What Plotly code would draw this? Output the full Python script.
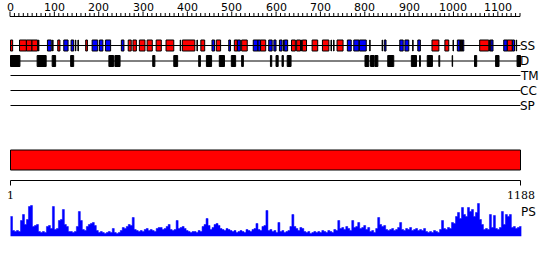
import plotly.graph_objects as go
import numpy as np

# ---------------- data ----------------
seq_len = 1188
ruler_max = 1150
ruler_labels = list(range(0, 1101, 100))
ruler_minor = list(range(0, 1151, 10))

# secondary structure elements: H = helix (red), E = strand (blue), C = short coil mark (black)
ss_start = [1, 22, 38, 51, 66, 87, 99, 111, 125, 142, 152, 158, 176, 191, 208, 222, 259,
            275, 286, 301, 319, 340, 363, 396, 401, 435, 444, 470, 480, 509, 522, 529, 539,
            566, 577, 583, 602, 614, 627, 636, 638, 655, 667, 678, 680, 703, 727, 747, 753,
            761, 785, 800, 813, 837, 866, 871, 907, 919, 937, 949, 982, 1012, 1031, 1041,
            1047, 1049, 1050, 1053, 1093, 1116, 1119, 1149, 1157, 1169, 1178]
ss_end = [6, 38, 51, 64, 67, 96, 100, 116, 135, 148, 153, 159, 180, 204, 216, 234, 265,
          282, 294, 314, 331, 352, 381, 397, 430, 436, 453, 476, 490, 513, 529, 536, 552,
          577, 583, 595, 610, 619, 633, 637, 646, 664, 676, 679, 690, 716, 742, 748, 754,
          775, 794, 812, 829, 838, 867, 875, 915, 928, 938, 955, 998, 1021, 1032, 1047,
          1049, 1050, 1053, 1056, 1114, 1119, 1124, 1157, 1169, 1174, 1179]
ss_type = ['H', 'H', 'H', 'H', 'C', 'E', 'C', 'H', 'E', 'E', 'C', 'C', 'H', 'E', 'E', 'E', 'E',
           'H', 'H', 'H', 'H', 'H', 'H', 'C', 'H', 'C', 'H', 'E', 'H', 'E', 'H', 'E', 'H',
           'E', 'E', 'H', 'E', 'E', 'E', 'C', 'E', 'H', 'H', 'C', 'H', 'H', 'H', 'C', 'C',
           'H', 'E', 'E', 'E', 'C', 'C', 'E', 'E', 'E', 'C', 'E', 'H', 'H', 'C', 'E',
           'H', 'C', 'H', 'E', 'H', 'H', 'E', 'E', 'H', 'E', 'C']

# disordered regions (D)
dis_start = [1, 63, 98, 141, 230, 244, 332, 381, 439, 457, 487, 515, 539, 606, 619, 633, 645,
             826, 839, 849, 879, 934, 953, 971, 998, 1029, 1081, 1130, 1180]
dis_end = [23, 84, 106, 148, 241, 256, 337, 390, 443, 469, 499, 525, 543, 609, 624, 636, 654,
           835, 847, 856, 893, 946, 955, 983, 1000, 1030, 1086, 1138, 1188]

# domain bar
domain_start = [1]
domain_end = [1188]

# PS profile (arbitrary score units), equal bins along the sequence
ps_score = [20, 6, 5, 6, 5, 16, 22, 12, 17, 30, 31, 10, 11, 12, 5, 4, 5, 4, 10, 11, 8, 30, 7, 8,
            16, 17, 27, 12, 10, 5, 5, 4, 5, 10, 25, 16, 7, 6, 10, 12, 13, 14, 11, 6, 4, 5, 4, 3,
            4, 5, 4, 8, 4, 3, 4, 6, 9, 8, 10, 12, 11, 19, 7, 6, 5, 6, 5, 7, 8, 6, 7, 6, 5, 8, 9,
            9, 7, 8, 10, 12, 7, 6, 7, 16, 8, 9, 10, 8, 6, 5, 4, 5, 5, 4, 6, 5, 10, 12, 18, 11, 7,
            9, 12, 13, 11, 8, 7, 6, 8, 7, 6, 5, 6, 4, 5, 6, 5, 4, 7, 6, 5, 7, 8, 13, 7, 6, 10, 11,
            26, 6, 7, 5, 6, 4, 14, 5, 6, 4, 5, 6, 10, 22, 10, 8, 6, 9, 8, 5, 4, 5, 3, 4, 5, 4, 5,
            4, 6, 5, 4, 6, 5, 4, 7, 6, 16, 8, 9, 7, 10, 8, 6, 16, 9, 10, 14, 8, 9, 11, 7, 9, 5, 6,
            4, 8, 19, 12, 10, 11, 7, 6, 7, 8, 6, 7, 9, 14, 7, 6, 8, 7, 9, 6, 7, 8, 6, 7, 6, 8, 5,
            4, 5, 4, 6, 5, 4, 7, 16, 8, 7, 9, 8, 14, 13, 20, 24, 18, 29, 22, 20, 29, 25, 27, 20,
            24, 33, 17, 12, 7, 8, 7, 22, 9, 21, 8, 7, 9, 25, 12, 22, 20, 22, 9, 10, 8, 9, 10]

track_names = ['SS', 'D', 'TM', 'CC', 'SP']

# ---------------- layout helpers ----------------
W, H = 550, 260
k = (seq_len - 1) / 510.0          # residues per pixel, main scale
x_range = [1 - 10.5 * k, 1 + (W - 10.5) * k]
k2 = ruler_max / 510.0             # residues per pixel, top ruler
x2_range = [-10 * k2, (W - 10) * k2]
track_y = {'SS': 45.5, 'D': 61.0, 'TM': 75.5, 'CC': 90.5, 'SP': 105.5}
colors = {'H': '#ff0000', 'E': '#0000ff', 'C': '#000000'}

fig = go.Figure()

# top ruler
rx, ry = [0, ruler_max], [16.5, 16.5]
fig.add_trace(go.Scatter(x=rx, y=ry, xaxis='x2', yaxis='y', mode='lines',
                         line=dict(color='black', width=1), hoverinfo='skip'))
tx, ty = [], []
for t in ruler_minor:
    top = 11.5 if t % 100 == 0 else 13
    tx += [t, t, None]
    ty += [top, 16.5, None]
fig.add_trace(go.Scatter(x=tx, y=ty, xaxis='x2', yaxis='y', mode='lines',
                         line=dict(color='black', width=1), hoverinfo='skip'))

# track base lines
for name in track_names:
    yv = track_y[name]
    fig.add_trace(go.Scatter(x=[1, seq_len], y=[yv, yv], mode='lines',
                             line=dict(color='black', width=1), hoverinfo='skip'))

# SS boxes
for t in ['H', 'E', 'C']:
    s = [a for a, b, c in zip(ss_start, ss_end, ss_type) if c == t]
    e = [b for a, b, c in zip(ss_start, ss_end, ss_type) if c == t]
    fig.add_trace(go.Bar(orientation='h', base=s, x=[b - a for a, b in zip(s, e)],
                         y=[track_y['SS']] * len(s), width=11,
                         marker=dict(color=colors[t], line=dict(color='black', width=1)),
                         hoverinfo='skip'))

# disorder boxes
fig.add_trace(go.Bar(orientation='h', base=dis_start,
                     x=[b - a for a, b in zip(dis_start, dis_end)],
                     y=[track_y['D']] * len(dis_start), width=11,
                     marker=dict(color='black', line=dict(color='black', width=1)),
                     hoverinfo='skip'))

# domain bar
fig.add_trace(go.Bar(orientation='h', base=domain_start,
                     x=[b - a for a, b in zip(domain_start, domain_end)],
                     y=[160] * len(domain_start), width=20,
                     marker=dict(color='#ff0000', line=dict(color='black', width=1)),
                     hoverinfo='skip'))

# bottom ruler
fig.add_trace(go.Scatter(x=[1, seq_len], y=[180.5, 180.5], mode='lines',
                         line=dict(color='black', width=1), hoverinfo='skip'))
fig.add_trace(go.Scatter(x=[1, 1, None, seq_len, seq_len], y=[180.5, 185.5, None, 180.5, 185.5],
                         mode='lines', line=dict(color='black', width=1), hoverinfo='skip'))

# PS profile
n = len(ps_score)
edges = np.linspace(1, seq_len + 2, n + 1)
px_ = list(edges)
py_ = list(ps_score) + [ps_score[-1]]
fig.add_trace(go.Scatter(x=px_, y=py_, xaxis='x', yaxis='y2', mode='lines',
                         line=dict(color='#0000ff', width=0.5, shape='hv'),
                         fill='tozeroy', fillcolor='#0000ff', hoverinfo='skip'))

ann = []
for v in ruler_labels:
    ann.append(dict(x=v, y=7.5, xref='x2', yref='y', text=str(v), showarrow=False,
                    xanchor='center', yanchor='middle',
                    font=dict(family='DejaVu Sans', size=11, color='black')))
for name in track_names:
    ann.append(dict(x=519.5 / W, y=track_y[name], xref='paper', yref='y', text=name,
                    showarrow=False, xanchor='left', yanchor='middle', xshift=-2,
                    font=dict(family='DejaVu Sans', size=12, color='black')))
ann.append(dict(x=521 / W, y=211.5, xref='paper', yref='y', text='PS', showarrow=False,
                xanchor='left', yanchor='middle', xshift=-2,
                font=dict(family='DejaVu Sans', size=12, color='black')))
for v in [1, seq_len]:
    ann.append(dict(x=v, y=195, xref='x', yref='y', text=str(v), showarrow=False,
                    xanchor='center', yanchor='middle',
                    font=dict(family='DejaVu Serif', size=11, color='black')))

fig.update_layout(
    width=W, height=H, margin=dict(l=0, r=0, t=0, b=0),
    paper_bgcolor='white', plot_bgcolor='white',
    showlegend=False, barmode='overlay',
    xaxis=dict(range=x_range, visible=False, fixedrange=True),
    xaxis2=dict(range=x2_range, visible=False, overlaying='x', anchor='y', fixedrange=True),
    yaxis=dict(range=[H, 0], visible=False, fixedrange=True),
    yaxis2=dict(range=[0, 34], visible=False, anchor='x',
                domain=[1 - 236.5 / H, 1 - 202.5 / H], fixedrange=True),
    annotations=ann,
)

fig.write_html("out.html")
